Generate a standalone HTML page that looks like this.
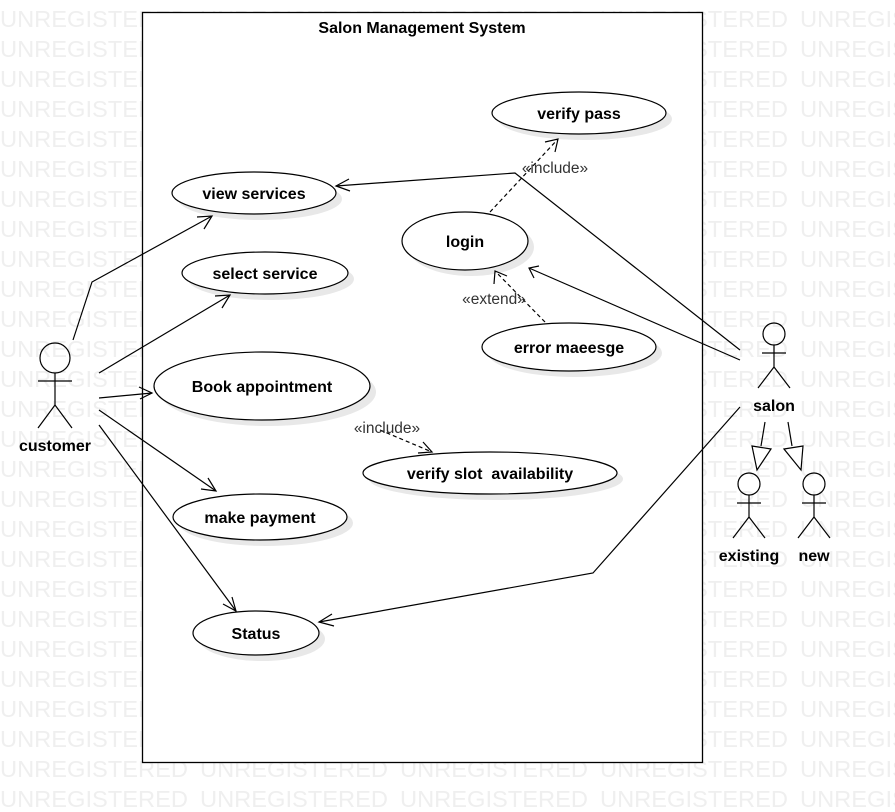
<!DOCTYPE html>
<html><head><meta charset="utf-8"><style>
html,body{margin:0;padding:0;background:#fff;}
svg{display:block;}
text{font-family:"Liberation Sans",Arial,sans-serif;}
.wm{font-size:23px;fill:#efefef;}
.b{font-weight:bold;font-size:16px;fill:#000;}
.s{font-size:15.5px;fill:#333;}
</style></head><body>
<svg width="895" height="812" viewBox="0 0 895 812" xmlns="http://www.w3.org/2000/svg">
<g class="wm" id="wm"></g>
<script>
(function(){var g=document.getElementById('wm');var ns='http://www.w3.org/2000/svg';
for(var r=0;r<27;r++){for(var c=0;c<5;c++){var t=document.createElementNS(ns,'text');t.setAttribute('x',c*200);t.setAttribute('y',27+r*30);t.setAttribute('textLength','188');t.setAttribute('lengthAdjust','spacingAndGlyphs');t.textContent='UNREGISTERED';g.appendChild(t);}}})();
</script>
<rect x="142.5" y="12.5" width="560" height="750" fill="#fff" stroke="#000" stroke-width="1.3"/>
<text x="422" y="33" text-anchor="middle" class="b">Salon Management System</text>

<g fill="#e8e8e8">
<ellipse cx="585" cy="119" rx="87" ry="21"/>
<ellipse cx="260" cy="199" rx="82" ry="21"/>
<ellipse cx="471" cy="247" rx="63" ry="29"/>
<ellipse cx="271" cy="279" rx="83" ry="21"/>
<ellipse cx="575" cy="353" rx="87" ry="24"/>
<ellipse cx="268" cy="392" rx="108" ry="34"/>
<ellipse cx="496" cy="479" rx="127" ry="21"/>
<ellipse cx="266" cy="523" rx="87" ry="23"/>
<ellipse cx="262" cy="639" rx="63" ry="22"/>
</g>
<g fill="#fff" stroke="#000" stroke-width="1.2">
<ellipse cx="579" cy="113" rx="87" ry="21"/>
<ellipse cx="254" cy="193" rx="82" ry="21"/>
<ellipse cx="465" cy="241" rx="63" ry="29"/>
<ellipse cx="265" cy="273" rx="83" ry="21"/>
<ellipse cx="569" cy="347" rx="87" ry="24"/>
<ellipse cx="262" cy="386" rx="108" ry="34"/>
<ellipse cx="490" cy="473" rx="127" ry="21"/>
<ellipse cx="260" cy="517" rx="87" ry="23"/>
<ellipse cx="256" cy="633" rx="63" ry="22"/>
</g>
<g class="b" text-anchor="middle">
<text x="579" y="119">verify pass</text>
<text x="254" y="199">view services</text>
<text x="465" y="247">login</text>
<text x="265" y="279">select service</text>
<text x="569" y="353">error maeesge</text>
<text x="262" y="392">Book appointment</text>
<text x="490" y="479" xml:space="preserve">verify slot  availability</text>
<text x="260" y="523">make payment</text>
<text x="256" y="639">Status</text>
</g>

<g fill="none" stroke="#000" stroke-width="1.2">
<circle cx="55" cy="358" r="15"/>
<line x1="55" y1="373" x2="55" y2="405"/>
<line x1="38" y1="381" x2="72" y2="381"/>
<polyline points="38,428 55,405 72,428"/>
<circle cx="774" cy="334" r="11"/>
<line x1="774" y1="345" x2="774" y2="367"/>
<line x1="762" y1="353" x2="786" y2="353"/>
<polyline points="758,388 774,367 790,388"/>
<circle cx="749" cy="484" r="11"/>
<line x1="749" y1="495" x2="749" y2="517"/>
<line x1="737" y1="503" x2="761" y2="503"/>
<polyline points="733,538 749,517 765,538"/>
<circle cx="814" cy="484" r="11"/>
<line x1="814" y1="495" x2="814" y2="517"/>
<line x1="802" y1="503" x2="826" y2="503"/>
<polyline points="798,538 814,517 830,538"/>
<line x1="765" y1="422" x2="761" y2="446"/>
<polygon points="752,446 771,449 757,470" fill="#fff"/>
<line x1="788" y1="422" x2="792" y2="446"/>
<polygon points="784,449 803,446 801,470" fill="#fff"/>

<polyline points="73,340 92,282 212,216"/>
<polyline points="197,217 212,216 204,229"/>
<line x1="99" y1="373" x2="230" y2="295"/>
<polyline points="215,296 230,295 222,308"/>
<line x1="99" y1="398" x2="152" y2="393"/>
<polyline points="139,387 152,393 140,399"/>
<line x1="99" y1="410" x2="216" y2="491"/>
<polyline points="208,478 216,491 201,489"/>
<line x1="99" y1="425" x2="236" y2="611"/>
<polyline points="232,597 236,611 223,604"/>
<polyline points="740,350 515,173 336,186"/>
<polyline points="349,179 336,186 350,191"/>
<line x1="740" y1="360" x2="529" y2="268"/>
<polyline points="539,266 529,268 534,278"/>
<polyline points="740,407 593,573 319,622"/>
<polyline points="332,614 319,622 334,626"/>
</g>
<g fill="none" stroke="#000" stroke-width="1.2" stroke-dasharray="4,3">
<line x1="490" y1="212" x2="558" y2="139"/>
<line x1="545" y1="322" x2="495" y2="271"/>
<line x1="380" y1="430" x2="432" y2="452"/>
</g>
<g fill="none" stroke="#000" stroke-width="1.2">
<polyline points="545,142 558,139 555,152"/>
<polyline points="494,284 495,271 507,276"/>
<polyline points="418,453 432,452 423,442"/>
</g>
<g class="s" text-anchor="middle">
<text x="555" y="173">«include»</text>
<text x="494" y="304">«extend»</text>
<text x="387" y="433">«include»</text>
</g>
<g class="b" text-anchor="middle">
<text x="55" y="451">customer</text>
<text x="774" y="411">salon</text>
<text x="749" y="561">existing</text>
<text x="814" y="561">new</text>
</g>
</svg>
</body></html>
